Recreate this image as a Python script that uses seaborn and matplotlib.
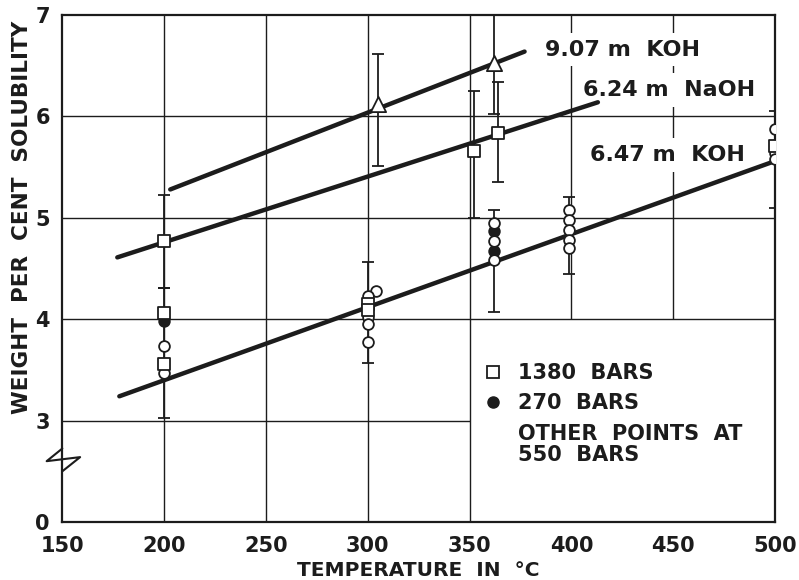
import numpy as np
import seaborn as sns
import matplotlib.pyplot as plt
from matplotlib.lines import Line2D

# fitted lines (end points)
koh907_temp = [203, 377]
koh907_sol = [5.28, 6.64]
naoh624_temp = [177, 413]
naoh624_sol = [4.61, 6.14]
koh647_temp = [178, 500]
koh647_sol = [3.24, 5.56]

# open circles, 550 bars
circ_temp = [200, 200, 304, 300, 300, 300, 300, 362, 362, 362, 399, 399, 399, 399, 399, 500, 500, 500]
circ_sol = [3.74, 3.47, 4.28, 4.23, 4.02, 3.95, 3.78, 4.95, 4.77, 4.58, 5.08, 4.98, 4.88, 4.78, 4.70, 5.88, 5.64, 5.58]

# squares, 1380 bars
sq_temp = [200, 200, 200, 300, 300, 352, 364, 500]
sq_sol = [4.77, 4.06, 3.56, 4.15, 4.09, 5.66, 5.84, 5.71]

# filled dots, 270 bars
dot_temp = [200, 362, 362, 500]
dot_sol = [3.98, 4.87, 4.67, 5.70]

# triangles, 9.07 m KOH
tri_temp = [305, 362]
tri_sol = [6.12, 6.53]

# error bars
err_temp = [200, 200, 300, 305, 352, 362, 364, 362, 399, 500]
err_lo = [4.31, 3.03, 3.57, 5.51, 5.00, 6.02, 5.35, 4.07, 4.45, 5.10]
err_hi = [5.23, 4.31, 4.56, 6.62, 6.25, 7.00, 6.34, 5.08, 5.21, 6.05]

x_ticks = [150, 200, 250, 300, 350, 400, 450, 500]
y_ticks = [0, 3, 4, 5, 6, 7]

sns.set_theme(style="white")
plt.rcParams["font.family"] = ["DejaVu Sans"]
plt.rcParams["font.weight"] = "bold"
ink = "#1c1c1c"


# broken y axis: 0..3 squeezed into one unit
def fwd(v):
    v = np.asarray(v, dtype=float)
    return np.where(v >= 3, v, 2 + v / 3.0)


def inv(u):
    u = np.asarray(u, dtype=float)
    return np.where(u >= 3, u, (u - 2) * 3.0)


fig = plt.figure(figsize=(7.99, 5.80), dpi=100)
ax = fig.add_axes([0.078, 0.10, 0.892, 0.874])
ax.set_yscale("function", functions=(fwd, inv))
ax.set_xlim(150, 500)
ax.set_ylim(0, 7)

# partial grid as in the original
gl = dict(color=ink, linewidth=1.0, zorder=1)
ax.vlines([200, 250, 300, 350], 0, 7, **gl)
ax.vlines([400, 450], 4, 7, **gl)
ax.hlines([4, 5, 6], 150, 500, **gl)
ax.hlines(3, 150, 350, **gl)

ax.errorbar(err_temp, [(a + b) / 2 for a, b in zip(err_lo, err_hi)],
            yerr=[[(b - a) / 2 for a, b in zip(err_lo, err_hi)],
                  [(b - a) / 2 for a, b in zip(err_lo, err_hi)]],
            fmt="none", ecolor=ink, elinewidth=1.3, capsize=4, capthick=1.3, zorder=3)

for t, s in [(koh907_temp, koh907_sol), (naoh624_temp, naoh624_sol), (koh647_temp, koh647_sol)]:
    sns.lineplot(x=t, y=s, color=ink, linewidth=3.2, ax=ax, zorder=4)

sns.scatterplot(x=dot_temp, y=dot_sol, marker="o", s=60, color=ink, edgecolor=ink, linewidth=1.2, ax=ax, zorder=5)
sns.scatterplot(x=circ_temp, y=circ_sol, marker="o", s=60, color="white", edgecolor=ink, linewidth=1.3, ax=ax, zorder=6)
sns.scatterplot(x=sq_temp, y=sq_sol, marker="s", s=80, color="white", edgecolor=ink, linewidth=1.3, ax=ax, zorder=6)
sns.scatterplot(x=tri_temp, y=tri_sol, marker="^", s=120, color="white", edgecolor=ink, linewidth=1.3, ax=ax, zorder=6)

box = dict(facecolor="white", edgecolor="none", pad=5)
ax.text(425, 6.66, "9.07 m  KOH", fontsize=16, ha="center", va="center", color=ink, bbox=box, zorder=2)
ax.text(448, 6.26, "6.24 m  NaOH", fontsize=16, ha="center", va="center", color=ink, bbox=box, zorder=2)
ax.text(447, 5.62, "6.47 m  KOH", fontsize=16, ha="center", va="center", color=ink, bbox=box, zorder=2)

handles = [
    Line2D([], [], ls="", marker="s", ms=8.5, mfc="white", mec=ink, mew=1.3),
    Line2D([], [], ls="", marker="o", ms=8, mfc=ink, mec=ink),
    Line2D([], [], ls="", marker=""),
]
leg = ax.legend(handles, ["1380  BARS", "270  BARS", "OTHER  POINTS  AT\n550  BARS"],
                loc="upper left", bbox_to_anchor=(0.59, 0.314), frameon=False,
                fontsize=15, handlelength=1.0, handletextpad=0.7, labelspacing=0.5,
                borderaxespad=0, borderpad=0)
for t in leg.get_texts():
    t.set_linespacing(1.1)
    t.set_color(ink)

# axis break mark
ax.plot([0, -0.022, 0.025, 0], [0.145, 0.12, 0.128, 0.10], transform=ax.transAxes,
        color=ink, linewidth=1.5, clip_on=False, zorder=7)

ax.set_xticks(x_ticks)
ax.set_yticks(y_ticks)
ax.set_yticklabels([str(v) for v in y_ticks])
ax.tick_params(axis="x", direction="in", length=7, width=1.2, color=ink, labelsize=15, pad=10, labelcolor=ink)
ax.tick_params(axis="y", length=0, labelsize=15, pad=9, labelcolor=ink)
for sp in ax.spines.values():
    sp.set_color(ink)
    sp.set_linewidth(1.6)

ax.set_xlabel("TEMPERATURE  IN  °C", fontsize=14.5, fontweight="bold", color=ink, labelpad=4)
ax.set_ylabel("WEIGHT  PER  CENT  SOLUBILITY", fontsize=15.5, fontweight="bold", color=ink)
ax.yaxis.set_label_coords(-0.042, 0.60)

fig.savefig("out.png", dpi=100, facecolor="white")
